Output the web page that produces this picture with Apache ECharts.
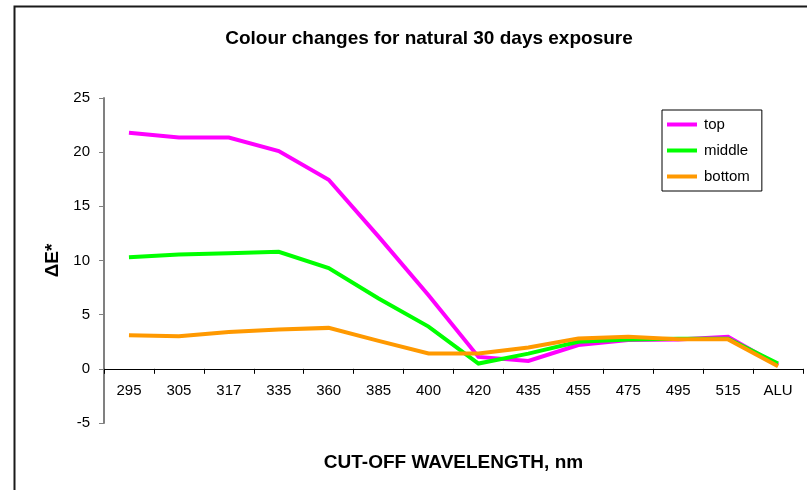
<!DOCTYPE html>
<html>
<head>
<meta charset="utf-8">
<script src="https://cdn.jsdelivr.net/npm/echarts@6/dist/echarts.min.js"></script>
<style>
  html, body { margin: 0; padding: 0; background: #ffffff; }
  #chart { width: 807px; height: 490px; }
</style>
</head>
<body>
<div id="chart"></div>
<script>
// Cut-off filter wavelengths (nm) and the aluminium reference
const categories = ['295', '305', '317', '335', '360', '385', '400', '420', '435', '455', '475', '495', '515', 'ALU'];

// Colour difference ΔE* after 30 days of natural exposure
const topValues    = [21.8, 21.35, 21.35, 20.1, 17.45, 12.2, 6.8, 1.1, 0.73, 2.2, 2.65, 2.7, 2.95, 0.33];
const middleValues = [10.3, 10.55, 10.67, 10.8, 9.3, 6.5, 3.9, 0.49, 1.4, 2.5, 2.7, 2.78, 2.78, 0.49];
const bottomValues = [3.1, 3.0, 3.4, 3.63, 3.78, 2.58, 1.42, 1.42, 1.97, 2.8, 2.95, 2.72, 2.72, 0.24];

const seriesNames = ['top', 'middle', 'bottom'];
const seriesColors = ['#ff00ff', '#00ff00', '#ff9900'];

const yTicks = { min: -5, max: 25, interval: 5 };

// Plot box in pixels
const gridBox = { left: 104, right: 4, top: 98, bottom: 67 };
const plotHeight = 490 - gridBox.top - gridBox.bottom;
// Distance from the bottom of the plot box up to the zero line, so the
// category axis (line, ticks and labels) sits on y = 0
const zeroLift = plotHeight * (0 - yTicks.min) / (yTicks.max - yTicks.min);

const chart = echarts.init(document.getElementById('chart'), null, { renderer: 'canvas' });

const font = 'Arial, "Liberation Sans", sans-serif';

function lineSeries(name, data, color, z) {
  return {
    name: name,
    type: 'line',
    data: data,
    symbol: 'none',
    z: z,
    lineStyle: { color: color, width: 4, join: 'miter' },
    itemStyle: { color: color },
    emphasis: { disabled: true }
  };
}

chart.setOption({
  animation: false,
  backgroundColor: '#ffffff',
  textStyle: { fontFamily: font },
  title: {
    text: 'Colour changes for natural 30 days exposure',
    left: 424,
    top: 24,
    textAlign: 'center',
    textStyle: { fontFamily: font, fontSize: 19, fontWeight: 'bold', color: '#000000' }
  },
  legend: {
    data: seriesNames,
    orient: 'vertical',
    left: 662,
    top: 110,
    width: 97,
    padding: [7, 12, 7, 5],
    itemWidth: 30,
    itemHeight: 4,
    itemGap: 11,
    icon: 'rect',
    backgroundColor: '#ffffff',
    borderColor: '#000000',
    borderWidth: 1,
    borderRadius: 0,
    textStyle: { fontFamily: font, fontSize: 15, color: '#000000', padding: [0, 0, 0, 2] }
  },
  grid: {
    left: gridBox.left,
    right: gridBox.right,
    top: gridBox.top,
    bottom: gridBox.bottom,
    containLabel: false,
    outerBoundsMode: 'none'
  },
  xAxis: {
    type: 'category',
    data: categories,
    boundaryGap: true,
    offset: -zeroLift,
    name: 'CUT-OFF WAVELENGTH, nm',
    nameLocation: 'middle',
    nameGap: 84,
    nameTextStyle: { fontFamily: font, fontSize: 19, fontWeight: 'bold', color: '#000000' },
    axisLine: { onZero: false, lineStyle: { color: '#000000', width: 1 } },
    axisTick: { show: true, interval: 0, alignWithLabel: false, length: 5, lineStyle: { color: '#000000' } },
    axisLabel: { interval: 0, margin: 15, fontFamily: font, fontSize: 15, color: '#000000' },
    splitLine: { show: false }
  },
  yAxis: {
    type: 'value',
    min: yTicks.min,
    max: yTicks.max,
    interval: yTicks.interval,
    name: 'ΔE*',
    nameLocation: 'middle',
    nameRotate: 90,
    nameGap: 40,
    nameTextStyle: { fontFamily: font, fontSize: 19, fontWeight: 'bold', color: '#000000' },
    axisLine: { show: true, lineStyle: { color: '#808080', width: 2 } },
    axisTick: { show: true, length: 5, lineStyle: { color: '#808080' } },
    axisLabel: { margin: 14, fontFamily: font, fontSize: 15, color: '#000000' },
    splitLine: { show: false }
  },
  graphic: [
    {
      type: 'polyline',
      silent: true,
      shape: { points: [[14.5, 490], [14.5, 6.5], [807, 6.5]] },
      style: { stroke: '#1a1a1a', lineWidth: 2, fill: null }
    }
  ],
  series: [
    lineSeries(seriesNames[0], topValues, seriesColors[0], 3),
    lineSeries(seriesNames[1], middleValues, seriesColors[1], 4),
    lineSeries(seriesNames[2], bottomValues, seriesColors[2], 5)
  ]
});
</script>
</body>
</html>
